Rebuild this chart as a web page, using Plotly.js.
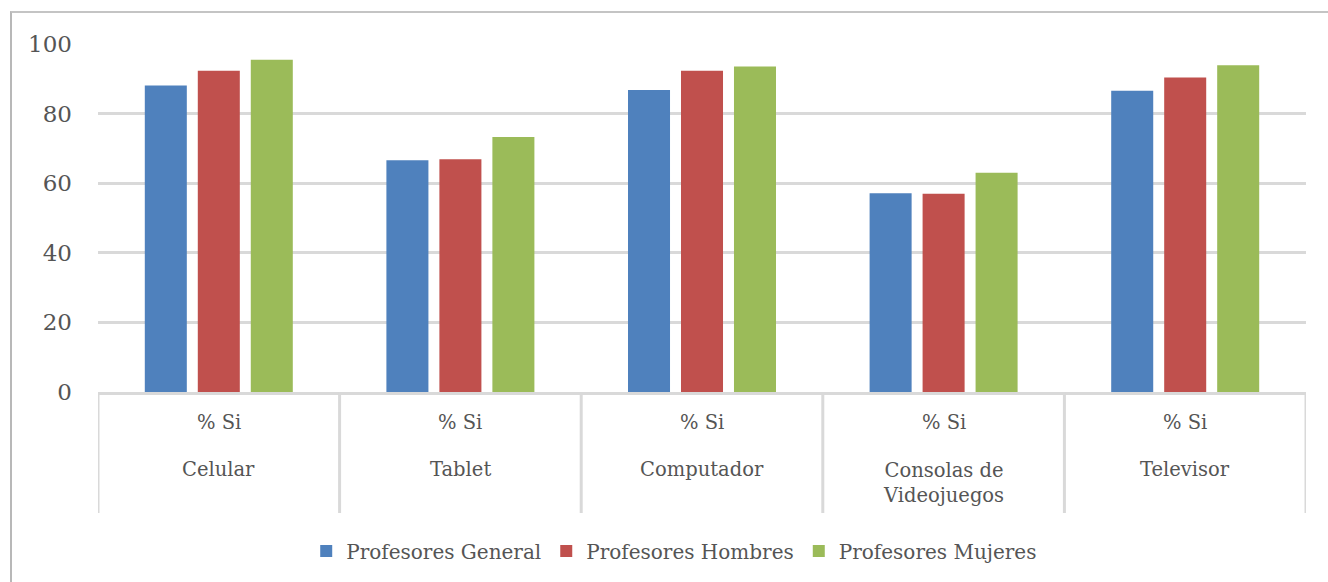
<!DOCTYPE html>
<html>
<head>
<meta charset="utf-8">
<script src="https://cdn.plot.ly/plotly-3.0.1.min.js"></script>
<style>
  html, body { margin: 0; padding: 0; background: #fff; width: 1328px; height: 582px; overflow: hidden; }
  #chart { position: absolute; left: 0; top: 0; width: 1328px; height: 582px; }
  #frame { position: absolute; left: 10px; top: 11px; width: 1330px; height: 600px;
           border-left: 2px solid #B8B8B8; border-top: 2px solid #C4C4C4; pointer-events: none; }
</style>
</head>
<body>
<div id="chart"></div>
<div id="frame"></div>
<script>
// ---- data ----
const categories = ["Celular", "Tablet", "Computador", "Consolas de<br>Videojuegos", "Televisor"];
const subLabel = "% Si";
const seriesNames = ["Profesores General", "Profesores Hombres", "Profesores Mujeres"];
const general = [88.1, 66.6, 86.8, 57.1, 86.6];
const hombres = [92.3, 66.9, 92.3, 57.0, 90.4];
const mujeres = [95.5, 73.3, 93.5, 63.0, 93.9];
const colors = ["#4F81BD", "#C0504D", "#9BBB59"];

// ---- layout constants ----
const W = 1328, H = 582;
const mL = 98, mR = 22, mT = 44, mB = 190;
const plotH = H - mT - mB;
const textColor = "#555555";
const fontFam = "DejaVu Serif, Liberation Serif, serif";
const gridColor = "#D9D9D9";

const xKeys = categories.map((c, i) => "c" + i);

const seriesVals = [general, hombres, mujeres];
const traces = seriesVals.map((vals, k) => ({
  type: "bar",
  name: seriesNames[k],
  x: xKeys,
  y: vals,
  marker: { color: colors[k], line: { width: 0 } },
  hoverinfo: "y+name"
}));

const px2paper = (py) => (mT + plotH - py) / plotH; // page y -> paper y

const annotations = [];
const shapes = [];
categories.forEach((c, i) => {
  annotations.push({
    xref: "x", yref: "paper", x: i, y: px2paper(422), yanchor: "middle", xanchor: "center",
    text: subLabel, showarrow: false, font: { family: fontFam, size: 19.5, color: textColor }
  });
  const lines = c.split("<br>").length;
  annotations.push({
    xref: "x", yref: "paper", x: i, y: px2paper(469 + (lines - 1) * 14), yanchor: "middle", xanchor: "center",
    text: c, showarrow: false, font: { family: fontFam, size: 19.5, color: textColor }
  });
});
for (let i = 0; i <= categories.length; i++) {
  shapes.push({
    type: "line", xref: "x", yref: "paper", x0: i - 0.5, x1: i - 0.5,
    y0: 0, y1: px2paper(513), line: { color: gridColor, width: 3 }
  });
}

const layout = {
  width: W, height: H,
  margin: { l: mL, r: mR, t: mT, b: mB, pad: 0 },
  paper_bgcolor: "#ffffff", plot_bgcolor: "#ffffff",
  font: { family: fontFam, color: textColor },
  barmode: "group",
  bargap: 0.342,
  bargroupgap: 0.207,
  showlegend: true,
  legend: {
    orientation: "h", x: 0.477, xanchor: "center", y: px2paper(551), yanchor: "middle",
    font: { family: fontFam, size: 20, color: textColor }, traceorder: "normal"
  },
  xaxis: {
    type: "category", range: [-0.5, categories.length - 0.5],
    showticklabels: false, ticks: "", showgrid: false, zeroline: false,
    showline: true, linecolor: gridColor, linewidth: 3, fixedrange: true
  },
  yaxis: {
    range: [0, 100], tickvals: [0, 20, 40, 60, 80, 100],
    showgrid: true, gridcolor: gridColor, gridwidth: 3, zeroline: false,
    showline: false, ticks: "", ticklabelstandoff: 25,
    tickfont: { family: fontFam, size: 23, color: textColor }, fixedrange: true
  },
  annotations: annotations,
  shapes: shapes
};

Plotly.newPlot("chart", traces, layout, { displayModeBar: false, staticPlot: true });
</script>
</body>
</html>
